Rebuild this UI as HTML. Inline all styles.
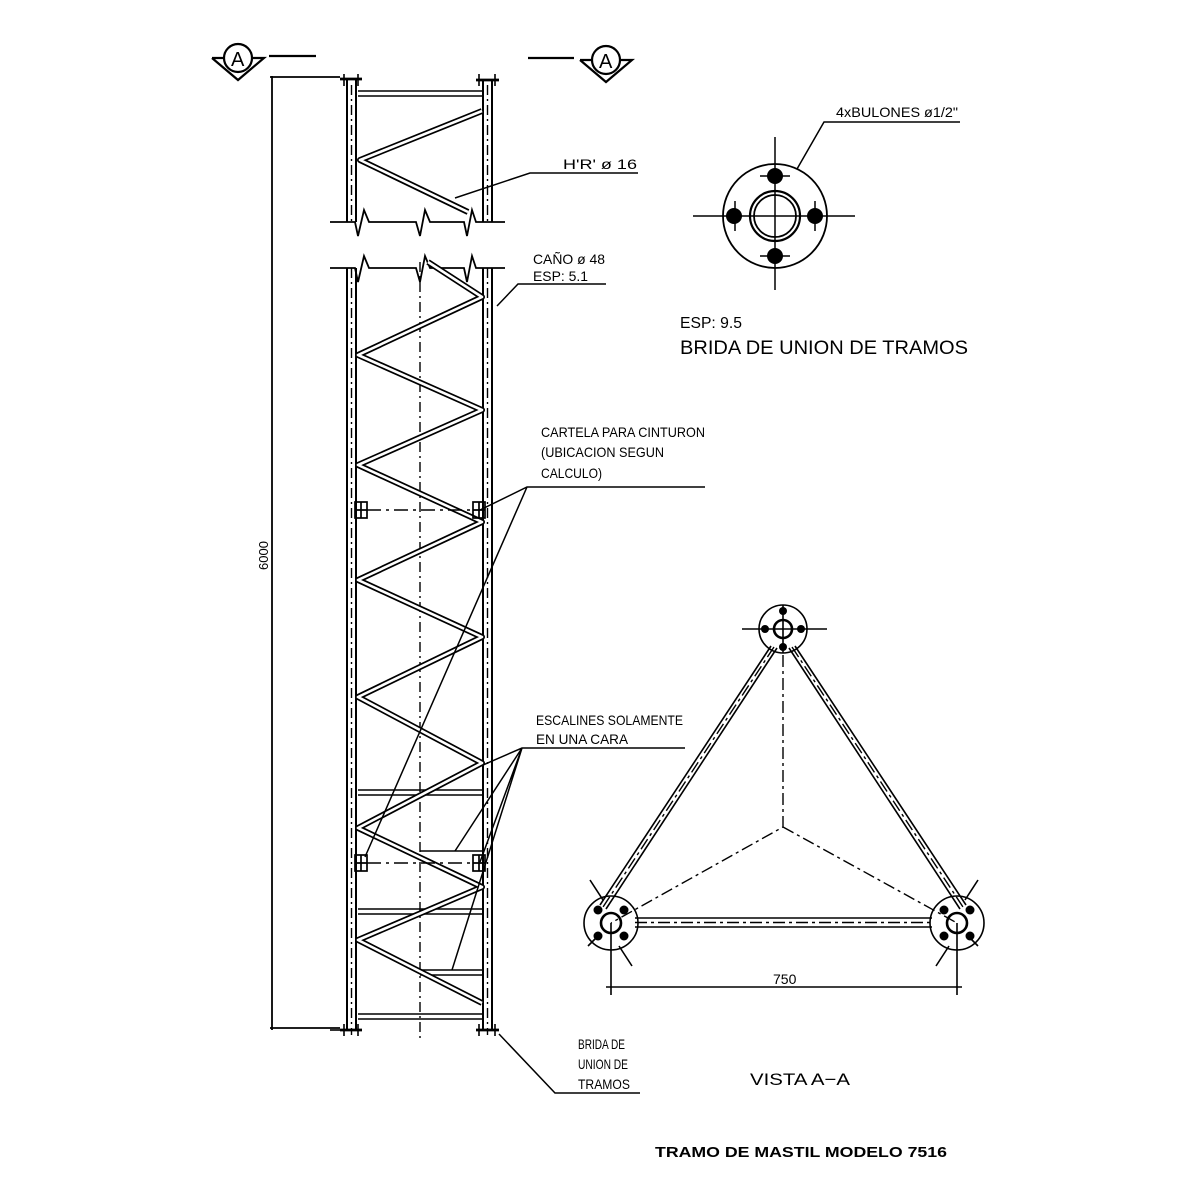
<!DOCTYPE html>
<html><head><meta charset="utf-8"><style>html,body{margin:0;padding:0;background:#fff}svg{display:block}</style></head>
<body>
<svg width="1200" height="1200" viewBox="0 0 1200 1200" xmlns="http://www.w3.org/2000/svg" font-family="Liberation Sans, sans-serif" fill="none" stroke="#000" stroke-width="1.8">
<!-- section markers -->
<g stroke-width="2.2">
<circle cx="238" cy="58" r="14"/><path d="M212 58 L224 58 M252 58 L264 58 L238 80 L212 58"/>
<circle cx="606" cy="60" r="14"/><path d="M580 60 L592 60 M620 60 L632 60 L606 82 L580 60"/>
<line x1="269" y1="56" x2="316" y2="56"/><line x1="528" y1="58" x2="574" y2="58"/>
</g>
<g fill="#000" stroke="none" font-size="20"><text x="231" y="66">A</text><text x="599" y="68">A</text></g>
<!-- dimension 6000 -->
<line x1="272" y1="76" x2="272" y2="1030"/>
<line x1="270" y1="77" x2="340" y2="77"/><line x1="270" y1="1028" x2="340" y2="1028"/>
<text x="268" y="570" font-size="13" fill="#000" stroke="none" transform="rotate(-90 268 570)">6000</text>
<!-- columns -->
<g stroke-width="2">
<line x1="347" y1="80" x2="347" y2="222"/><line x1="356" y1="80" x2="356" y2="222"/>
<line x1="483" y1="80" x2="483" y2="222"/><line x1="492" y1="80" x2="492" y2="222"/>
<line x1="347" y1="268" x2="347" y2="1030"/><line x1="356" y1="268" x2="356" y2="1030"/>
<line x1="483" y1="268" x2="483" y2="1030"/><line x1="492" y1="268" x2="492" y2="1030"/>
</g>
<g stroke-dasharray="10 4 2 4" stroke-width="1.4">
<line x1="351.5" y1="85" x2="351.5" y2="222"/><line x1="487.5" y1="85" x2="487.5" y2="222"/>
<line x1="351.5" y1="268" x2="351.5" y2="1035"/><line x1="487.5" y1="268" x2="487.5" y2="1035"/>
<line x1="420" y1="262" x2="420" y2="1040"/>
</g>
<!-- flanges -->
<g stroke-width="2.8">
<line x1="340" y1="79" x2="362" y2="79"/><line x1="476" y1="80" x2="499" y2="80"/>
<line x1="340" y1="1030" x2="362" y2="1030"/><line x1="476" y1="1030" x2="499" y2="1030"/>
</g>
<g stroke-width="1.6">
<path d="M344 74V86M358 74V86M479 74V86M495 74V86M344 1024V1036M358 1024V1036M479 1024V1036M495 1024V1036"/>
<line x1="330" y1="1030" x2="340" y2="1030"/>
</g>
<!-- break lines -->
<g stroke-width="1.8">
<path d="M330 222 H355 L358 236 L364 210 L369 222 H416 L420 236 L425 210 L430 222 H464 L467 236 L472 210 L476 222 H505"/>
<path d="M330 268 H355 L358 282 L364 256 L369 268 H416 L420 282 L425 256 L430 268 H464 L467 282 L472 256 L476 268 H505"/>
</g>
<!-- rungs -->
<g stroke-width="1.6">
<path d="M358 91H483M358 96H483"/>
<path d="M358 790H483M358 795H483"/>
<path d="M358 909H483M358 914H483"/>
<path d="M420 970H483M420 975H483"/>
<path d="M358 1014H483M358 1019H483"/>
<path d="M420 851H483"/>
</g>
<!-- zigzag -->
<g stroke-width="6" stroke-linejoin="round"><polyline points="482,111 360,160 468,212"/>
<polyline points="428,262 482,297 358,355 482,410 358,465 482,522 358,580 482,637 358,697 482,763 358,828 482,887 358,940 482,1003"/></g>
<g stroke-width="2.6" stroke="#fff" stroke-linejoin="round"><polyline points="482,111 360,160 468,212"/>
<polyline points="428,262 482,297 358,355 482,410 358,465 482,522 358,580 482,637 358,697 482,763 358,828 482,887 358,940 482,1003"/></g>
<!-- cartelas -->
<g stroke-width="1.7">
<rect x="355" y="502" width="12" height="16"/><rect x="473" y="502" width="12" height="16"/>
<rect x="355" y="855" width="12" height="16"/><rect x="473" y="855" width="12" height="16"/>
<path d="M355 510H367M473 510H485M355 863H367M473 863H485M361 502V518M479 502V518M361 855V871M479 855V871"/>
</g>
<g stroke-dasharray="14 5 3 5" stroke-width="1.5"><line x1="367" y1="510" x2="473" y2="510"/><line x1="367" y1="863" x2="473" y2="863"/></g>
<!-- leaders -->
<g stroke-width="1.5">
<path d="M455 198 L530 173 H638"/>
<path d="M497 306 L518 284 H606"/>
<path d="M705 487 H527 L480 510 M527 487 L365 857"/>
<path d="M685 748 H522 L483 765 M522 748 L455 851 M522 748 L480 862 M522 748 L452 970"/>
<path d="M499 1034 L555 1093 H640"/>
<path d="M797 169 L824 122 H960"/>
</g>
<g fill="#000" stroke="none" font-size="14">
<text x="563" y="169" textLength="74" lengthAdjust="spacingAndGlyphs">H'R' ø 16</text>
<text x="533" y="264" textLength="72" lengthAdjust="spacingAndGlyphs">CAÑO ø 48</text>
<text x="533" y="281" textLength="55" lengthAdjust="spacingAndGlyphs">ESP: 5.1</text>
<text x="541" y="437" textLength="164" lengthAdjust="spacingAndGlyphs">CARTELA PARA CINTURON</text>
<text x="541" y="457" textLength="123" lengthAdjust="spacingAndGlyphs">(UBICACION SEGUN</text>
<text x="541" y="478" textLength="61" lengthAdjust="spacingAndGlyphs">CALCULO)</text>
<text x="536" y="725" textLength="147" lengthAdjust="spacingAndGlyphs">ESCALINES SOLAMENTE</text>
<text x="536" y="744" textLength="92" lengthAdjust="spacingAndGlyphs">EN UNA CARA</text>
<text x="578" y="1049" textLength="47" lengthAdjust="spacingAndGlyphs">BRIDA DE</text>
<text x="578" y="1069" textLength="50" lengthAdjust="spacingAndGlyphs">UNION DE</text>
<text x="578" y="1089" textLength="52" lengthAdjust="spacingAndGlyphs">TRAMOS</text>
<text x="836" y="117" textLength="122" lengthAdjust="spacingAndGlyphs">4xBULONES ø1/2"</text>
<text x="680" y="328" font-size="16" textLength="62" lengthAdjust="spacingAndGlyphs">ESP: 9.5</text>
<text x="680" y="354" font-size="19" textLength="288" lengthAdjust="spacingAndGlyphs">BRIDA DE UNION DE TRAMOS</text>
<text x="750" y="1085" font-size="17" textLength="100" lengthAdjust="spacingAndGlyphs">VISTA A−A</text>
<text x="773" y="984" font-size="14">750</text>
<text x="655" y="1157" font-size="15" font-weight="bold" textLength="292" lengthAdjust="spacingAndGlyphs">TRAMO DE MASTIL MODELO 7516</text>
</g>
<!-- flange view -->
<circle cx="775" cy="216" r="52"/>
<circle cx="775" cy="216" r="25" stroke-width="2.2"/><circle cx="775" cy="216" r="21"/>
<g stroke-width="1.5"><path d="M693 216H855M775 137V290"/><path d="M760 176H790M760 256H790M735 201V231M815 201V231"/></g>
<g fill="#000" stroke="none"><circle cx="775" cy="176" r="8"/><circle cx="775" cy="256" r="8"/><circle cx="734" cy="216" r="8"/><circle cx="815" cy="216" r="8"/></g>
<!-- triangle view -->
<g stroke-width="1.6">
<path d="M771 646 L600 905 M777 648 L606 909 M795 646 L966 905 M789 648 L960 909"/>
<path d="M635 918 H932 M635 927 H932"/>
</g>
<g stroke-dasharray="12 4 3 4" stroke-width="1.4">
<path d="M774 647 L603 907 M792 647 L963 907 M635 922.5 H932"/>
<path d="M783 655 V827 L611 923 M783 827 L957 923"/>
</g>
<g stroke-width="1.6">
<circle cx="783" cy="629" r="24"/><circle cx="783" cy="629" r="9" stroke-width="2.6"/>
<path d="M742 629H827M783 605V653"/>
<circle cx="611" cy="923" r="27"/><circle cx="611" cy="923" r="10" stroke-width="2.6"/>
<circle cx="957" cy="923" r="27"/><circle cx="957" cy="923" r="10" stroke-width="2.6"/>
<path d="M590 880L603 900M619 946L632 966M978 880L965 900M949 946L936 966M588 946L596 938M978 946L970 938"/>
<path d="M611 923V995M957 923V995M606 987H962"/>
</g>
<g fill="#000" stroke="none">
<circle cx="783" cy="611" r="4"/><circle cx="783" cy="647" r="4"/><circle cx="765" cy="629" r="4"/><circle cx="801" cy="629" r="4"/>
<circle cx="598" cy="910" r="4.5"/><circle cx="624" cy="910" r="4.5"/><circle cx="598" cy="936" r="4.5"/><circle cx="624" cy="936" r="4.5"/>
<circle cx="944" cy="910" r="4.5"/><circle cx="970" cy="910" r="4.5"/><circle cx="944" cy="936" r="4.5"/><circle cx="970" cy="936" r="4.5"/>
</g>
</svg>
</body></html>
